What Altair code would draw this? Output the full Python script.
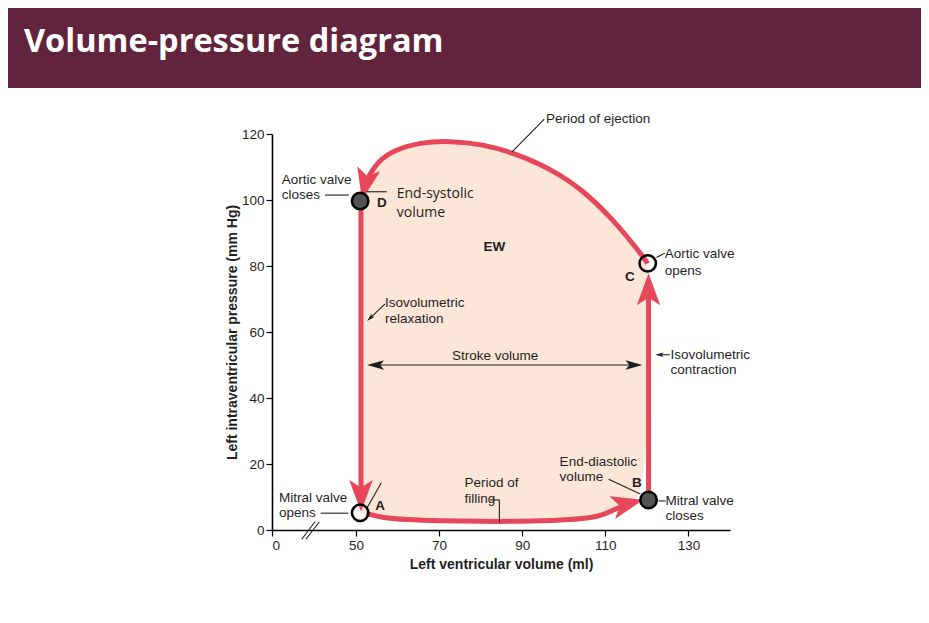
import altair as alt
import pandas as pd

# ---------------- data ----------------
# red loop segments (volume ml, pressure mm Hg)
filling_x = [52.5, 56.0, 62.0, 70.0, 80.0, 90.0, 100.0, 106.0, 109.5, 112.0, 115.0]
filling_y = [5.0, 3.8, 3.1, 2.8, 2.6, 2.6, 3.0, 3.6, 4.5, 6.2, 7.6]
contraction_x = [120.4, 120.4]
contraction_y = [9.1, 72.0]
ejection_x = [120.2, 118.4, 115.5, 111.9, 104.7, 96.7, 87.8, 80.6, 72.7, 65.4, 58.9, 55.1, 53.0]
ejection_y = [80.8, 83.9, 88.5, 93.9, 103.0, 109.6, 114.3, 116.9, 117.9, 117.5, 115.0, 111.5, 107.0]
relaxation_x = [51.2, 51.2]
relaxation_y = [99.7, 12.0]

# valve points A, B, C, D
point_names = ["A", "B", "C", "D"]
point_x = [51.0, 120.4, 120.2, 51.0]
point_y = [5.2, 9.1, 80.8, 99.7]
point_closed = [False, True, False, True]

# red arrow heads on the loop
red_arrow_x = [51.2, 120.4, 52.3, 115.2]
red_arrow_y = [10.6, 72.7, 105.0, 7.9]
red_arrow_dir = [180, 0, 192, 76]

# black pointer arrow heads
black_arrow_x = [54.7, 116.9, 53.4, 123.0]
black_arrow_y = [50.0, 50.0, 64.2, 53.1]
black_arrow_dir = [270, 90, 225, 270]
black_arrow_big = [True, True, False, False]

# labels (left edge, vertical centre)
label_text = ["Period of ejection", "Aortic valve", "closes", "Aortic valve", "opens",
              "Isovolumetric", "relaxation", "Stroke volume", "Isovolumetric", "contraction",
              "Mitral valve", "opens", "Period of", "filling", "End-diastolic", "volume",
              "Mitral valve", "closes"]
label_x = [95.7, 5.8, 5.8, 124.3, 124.3,
           57.0, 57.0, 73.1, 125.7, 125.7,
           4.2, 4.2, 76.1, 76.1, 99.0, 99.0,
           124.5, 124.5]
label_y = [124.5, 106.1, 101.5, 83.5, 78.6,
           68.9, 63.8, 52.7, 53.0, 48.5,
           9.6, 5.1, 14.1, 9.3, 20.7, 16.0,
           8.8, 4.2]

letter_text = ["A", "B", "C", "D", "EW"]
letter_x = [55.8, 117.6, 115.9, 56.2, 83.3]
letter_y = [7.3, 14.3, 76.6, 99.0, 85.7]

esv_text = ["End-systolic", "volume"]
esv_x = [59.8, 59.8]
esv_y = [101.8, 96.0]

# leader lines
lead_x = [95.3, 31.5, 52.6, 122.3, 57.0, 125.5, 29.0, 52.6, 84.5, 82.3, 110.8, 122.8, 53.5, 17.7, 20.2]
lead_y = [124.5, 101.5, 102.5, 82.6, 68.5, 53.1, 5.1, 6.6, 9.1, 9.1, 15.4, 8.8, 50.0, -2.8, -2.8]
lead_x2 = [87.5, 45.8, 57.4, 124.3, 53.4, 123.0, 45.4, 56.1, 84.5, 84.5, 118.4, 124.5, 117.5, 25.6, 28.2]
lead_y2 = [114.5, 101.5, 102.5, 83.9, 64.2, 53.1, 5.1, 14.3, 2.3, 9.1, 10.9, 8.8, 50.0, 2.5, 2.5]

x_ticks = [0, 50, 70, 90, 110, 130]
y_ticks = [0, 20, 40, 60, 80, 100, 120]

# ---------------- tables ----------------
segs = []
for name, xs, ys in [("filling", filling_x, filling_y), ("contraction", contraction_x, contraction_y),
                     ("ejection", ejection_x, ejection_y), ("relaxation", relaxation_x, relaxation_y)]:
    for i, (a, b) in enumerate(zip(xs, ys)):
        segs.append({"seg": name, "ord": i, "x": a, "y": b})
loop_df = pd.DataFrame(segs)

poly_x = [51.2] + filling_x + [point_x[1], point_x[2]] + ejection_x + [51.2]
poly_y = [point_y[0]] + filling_y + [point_y[1], point_y[2]] + ejection_y + [point_y[3]]
poly_df = pd.DataFrame({"x": poly_x, "y": poly_y, "ord": list(range(len(poly_x)))})

pts_df = pd.DataFrame({"name": point_names, "x": point_x, "y": point_y, "closed": point_closed})
red_arr_df = pd.DataFrame({"x": red_arrow_x, "y": red_arrow_y, "dir": red_arrow_dir})
blk_df = pd.DataFrame({"x": black_arrow_x, "y": black_arrow_y, "dir": black_arrow_dir, "big": black_arrow_big})
lab_df = pd.DataFrame({"t": label_text, "x": label_x, "y": label_y})
let_df = pd.DataFrame({"t": letter_text, "x": letter_x, "y": letter_y})
esv_df = pd.DataFrame({"t": esv_text, "x": esv_x, "y": esv_y})
lead_df = pd.DataFrame({"x": lead_x, "y": lead_y, "x2": lead_x2, "y2": lead_y2})
one = pd.DataFrame({"a": [0]})

# ---------------- scales / encodings ----------------
RED = "#e6475b"
PEACH = "#fbe6d8"
INK = "#1f1f1f"
FONT = "Liberation Sans"

xscale = alt.Scale(domain=[0, 50, 140], range=[0, 84, 458], nice=False, zero=False)
yscale = alt.Scale(domain=[0, 120], nice=False)
xaxis = alt.Axis(values=x_ticks, title="Left ventricular volume (ml)", grid=False,
                 titlePadding=6)
yaxis = alt.Axis(values=y_ticks, title="Left intraventricular pressure (mm Hg)", grid=False,
                 titlePadding=2)


def X(f="x"):
    return alt.X(f"{f}:Q", scale=xscale, axis=xaxis)


def Y(f="y"):
    return alt.Y(f"{f}:Q", scale=yscale, axis=yaxis)


ARROW = "M0,-1L0.7,0.9L0,0.45L-0.7,0.9Z"
THIN_ARROW = "M0,-1L0.55,1L0,0.55L-0.55,1Z"

header = alt.Chart(one).mark_rect(color="#62243c").encode(
    x=alt.value(-264), x2=alt.value(649), y=alt.value(-126), y2=alt.value(-46))
header_text = alt.Chart(one).mark_text(
    text="Volume-pressure diagram", font="Open Sans", fontWeight="bold", fontSize=32.5,
    color="white", align="left", baseline="alphabetic").encode(
    x=alt.value(-248), y=alt.value(-82))

poly = alt.Chart(poly_df).mark_line(fill=PEACH, strokeWidth=0, strokeOpacity=0,
                                    interpolate="basis").encode(
    x=X(), y=Y(), order="ord:Q")

loop = alt.Chart(loop_df).mark_line(color=RED, strokeWidth=5, interpolate="basis",
                                    strokeCap="butt").encode(
    x=X(), y=Y(), detail="seg:N", order="ord:Q")

red_arrows = alt.Chart(red_arr_df).mark_point(shape=ARROW, filled=True, color=RED, size=1130,
                                              opacity=1).encode(
    x=X(), y=Y(), angle=alt.Angle("dir:Q", scale=None))

leaders = alt.Chart(lead_df).mark_rule(color=INK, strokeWidth=1.1).encode(
    x=X(), y=Y(), x2="x2:Q", y2="y2:Q")

blk_big = alt.Chart(blk_df[blk_df.big]).mark_point(shape=THIN_ARROW, filled=True, color=INK,
                                                   size=290, opacity=1).encode(
    x=X(), y=Y(), angle=alt.Angle("dir:Q", scale=None))
blk_small = alt.Chart(blk_df[~blk_df.big]).mark_point(shape=THIN_ARROW, filled=True, color=INK,
                                                      size=70, opacity=1).encode(
    x=X(), y=Y(), angle=alt.Angle("dir:Q", scale=None))

pts_closed = alt.Chart(pts_df[pts_df.closed]).mark_point(
    shape="circle", filled=True, fill="#545454", stroke="black", strokeWidth=2.5, size=270,
    opacity=1).encode(x=X(), y=Y())
pts_open = alt.Chart(pts_df[~pts_df.closed]).mark_point(
    shape="circle", filled=False, stroke="black", strokeWidth=2.5, size=270, opacity=1).encode(
    x=X(), y=Y())

labels = alt.Chart(lab_df).mark_text(font=FONT, fontSize=13.5, color=INK, align="left",
                                     baseline="middle").encode(x=X(), y=Y(), text="t:N")
letters = alt.Chart(let_df).mark_text(font=FONT, fontSize=13.5, fontWeight="bold", color=INK,
                                      align="center", baseline="middle").encode(
    x=X(), y=Y(), text="t:N")
esv = alt.Chart(esv_df).mark_text(font="Open Sans", fontSize=14, color=INK, align="left",
                                  baseline="middle").encode(x=X(), y=Y(), text="t:N")

chart = alt.layer(
    header, header_text, poly, loop, red_arrows, leaders, blk_big, blk_small,
    pts_closed, pts_open, labels, letters, esv
).properties(
    width=458, height=396,
    autosize=alt.AutoSizeParams(type="none"),
    padding={"left": 264, "top": 126, "right": 191, "bottom": 85},
    background="white",
).configure_view(strokeWidth=0).configure_axis(
    labelFont=FONT, labelFontSize=13.5, labelColor=INK,
    titleFont=FONT, titleFontSize=14, titleFontWeight="bold", titleColor=INK,
    domainColor="black", domainWidth=1.6, tickColor="black", tickWidth=1.2, tickSize=6,
    labelPadding=2,
)

chart.save("out.html", embed_options={"renderer": "svg", "actions": False})
